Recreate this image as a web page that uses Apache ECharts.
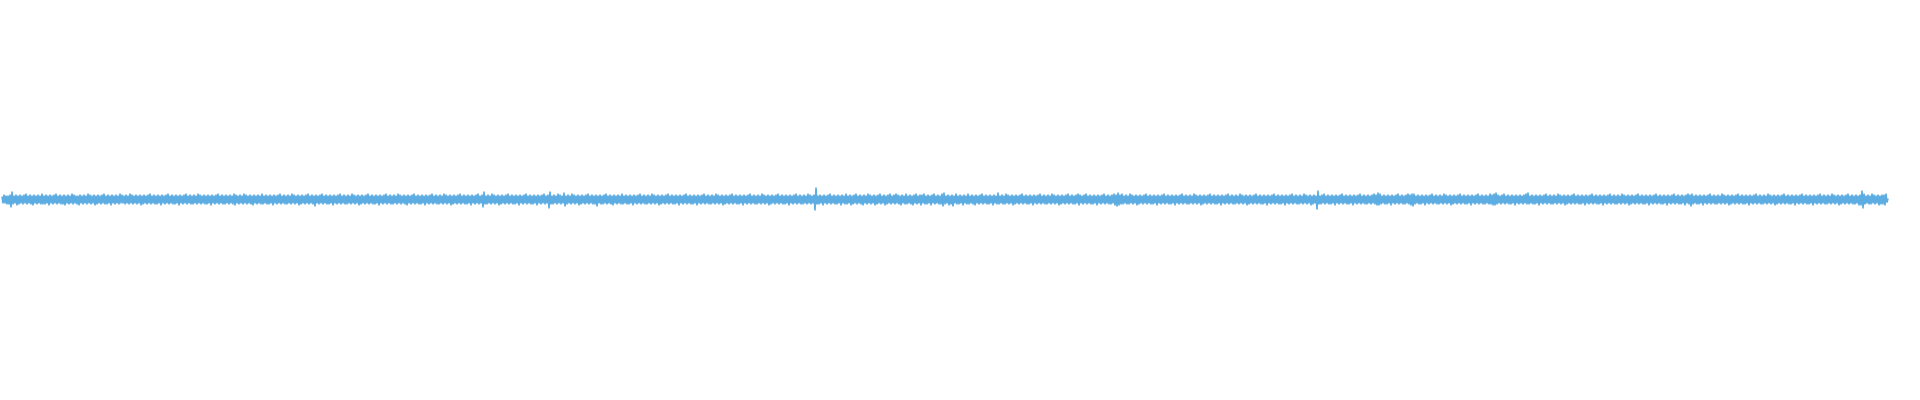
<!DOCTYPE html>
<html>
<head>
<meta charset="utf-8">
<style>
  html, body { margin: 0; padding: 0; background: #ffffff; }
  #chart { width: 1920px; height: 400px; }
</style>
<script src="https://cdn.jsdelivr.net/npm/echarts@6/dist/echarts.min.js"></script>
</head>
<body>
<div id="chart"></div>
<script>
// Waveform sample amplitudes
const samples = [
3,-4,5,-4,4,-5,4,-5,5,-8,8,-5,4,-4,5,-6,4,-5,5,-4,4,-5,5,-4,6,-5,4,-4,5,-5,4,-6,5,-4,4,-5,5,-4,4,-5,
6,-5,4,-5,5,-4,4,-6,5,-4,4,-5,5,-4,6,-5,4,-4,5,-5,4,-5,5,-6,4,-4,5,-5,4,-4,6,-5,5,-4,4,-5,4,-6,5,-4,
4,-5,5,-4,4,-5,6,-4,5,-5,4,-4,5,-6,4,-5,5,-4,4,-5,5,-4,6,-5,4,-5,5,-4,4,-6,5,-4,4,-5,5,-4,4,-5,6,-4,
5,-4,4,-5,5,-4,4,-5,6,-4,5,-5,4,-4,5,-5,4,-4,5,-6,4,-5,5,-4,4,-5,5,-4,6,-5,4,-4,5,-5,4,-5,5,-4,4,-6,
5,-4,4,-5,5,-4,6,-5,4,-4,5,-5,4,-5,5,-4,4,-6,5,-4,4,-5,5,-4,6,-5,4,-4,5,-5,4,-5,5,-4,4,-5,6,-4,5,-5,
4,-4,5,-5,4,-5,5,-4,4,-6,5,-4,4,-5,5,-4,6,-5,4,-4,5,-5,4,-5,5,-4,4,-5,5,-4,4,-5,6,-6,5,-4,4,-5,5,-4,
4,-5,6,-4,5,-5,4,-4,5,-5,4,-6,5,-4,4,-5,5,-4,4,-5,6,-5,4,-4,5,-5,4,-5,5,-4,4,-6,5,-4,4,-5,5,-4,6,-5,
4,-4,5,-5,4,-5,5,-4,4,-5,6,-4,5,-5,4,-4,5,-6,4,-5,5,-4,4,-5,5,-4,6,-5,4,-4,5,-5,4,-7,5,-4,4,-5,5,-4,
6,-5,4,-4,5,-5,4,-5,5,-4,4,-6,5,-4,4,-5,5,-4,6,-5,4,-4,5,-5,4,-5,5,-4,4,-5,6,-4,5,-5,4,-4,5,-6,4,-5,
5,-4,4,-5,5,-4,6,-5,4,-4,5,-5,4,-5,5,-4,4,-6,5,-4,4,-5,5,-4,6,-5,4,-4,5,-5,4,-5,5,-4,4,-5,6,-4,5,-5,
4,-4,5,-5,4,-6,5,-4,4,-5,5,-4,6,-5,4,-4,5,-5,4,-5,5,-4,4,-6,5,-4,4,-5,5,-4,6,-5,4,-4,5,-5,4,-5,5,-4,
4,-5,6,-4,5,-5,4,-4,5,-6,4,-5,5,-4,4,-5,5,-4,6,-5,4,-4,5,-5,4,-5,5,-4,4,-6,5,-4,4,-5,5,-4,6,-5,4,-4,
5,-8,8,-5,4,-5,5,-4,4,-5,6,-4,5,-5,4,-4,5,-6,4,-5,5,-4,4,-5,5,-4,6,-5,4,-4,5,-5,4,-5,5,-4,4,-6,5,-4,
4,-5,5,-4,6,-5,4,-4,5,-5,4,-5,5,-4,4,-6,5,-4,4,-5,5,-4,6,-5,4,-4,5,-9,8,-5,4,-5,5,-4,4,-5,6,-4,5,-5,
4,-4,7,-7,4,-5,5,-4,4,-5,6,-4,5,-5,4,-4,5,-6,4,-5,5,-4,4,-5,5,-4,6,-5,4,-4,5,-5,4,-5,5,-7,4,-4,5,-5,
4,-5,5,-4,6,-5,4,-4,5,-5,4,-6,5,-4,4,-5,5,-4,4,-5,6,-5,4,-4,5,-5,4,-5,5,-4,4,-6,5,-4,4,-5,5,-4,6,-5,
4,-4,5,-5,4,-5,5,-4,4,-5,6,-4,5,-5,4,-4,5,-6,4,-5,5,-4,4,-5,5,-4,6,-5,4,-4,5,-5,4,-5,5,-4,4,-6,5,-4,
4,-5,5,-4,6,-5,4,-4,5,-5,4,-5,5,-4,4,-6,5,-4,4,-5,5,-4,6,-5,4,-4,5,-5,4,-5,5,-4,4,-5,6,-4,5,-5,4,-4,
5,-6,4,-5,5,-4,4,-5,5,-4,6,-5,4,-4,5,-5,4,-5,5,-4,4,-6,5,-4,4,-5,5,-4,6,-5,4,-4,5,-5,4,-5,5,-4,4,-5,
6,-4,5,-5,4,-4,5,-6,4,-5,5,-4,4,-5,5,-4,6,-5,4,-4,5,-5,4,-5,5,-4,4,-6,5,-4,4,-5,5,-4,6,-5,4,-4,5,-5,
4,-5,5,-4,4,-5,6,-4,5,-5,4,-4,5,-11,12,-5,4,-5,5,-4,4,-6,5,-4,4,-5,5,-4,6,-5,4,-4,5,-5,4,-5,5,-4,4,-6,
5,-4,4,-5,6,-5,4,-4,5,-6,4,-5,5,-4,6,-5,4,-4,5,-5,4,-6,5,-4,4,-5,6,-4,5,-5,4,-4,5,-6,4,-5,5,-4,6,-5,
4,-4,5,-6,4,-5,5,-4,6,-5,4,-4,5,-5,6,-4,5,-5,4,-6,5,-4,4,-5,6,-5,4,-4,5,-5,4,-6,5,-4,6,-5,4,-4,5,-6,
5,-4,6,-5,4,-5,5,-4,4,-6,5,-4,6,-5,4,-4,5,-5,4,-5,6,-7,7,-5,4,-4,5,-6,4,-5,5,-7,4,-4,6,-5,4,-5,5,-4,
4,-6,5,-4,4,-5,6,-5,4,-4,5,-5,4,-6,5,-4,4,-5,5,-4,6,-5,4,-4,5,-5,4,-5,5,-4,4,-6,5,-4,4,-5,7,-5,4,-4,
5,-5,4,-5,6,-4,5,-5,4,-4,5,-6,4,-5,5,-4,4,-5,5,-4,6,-5,4,-4,5,-5,4,-5,5,-4,4,-6,5,-4,4,-5,5,-4,6,-5,
4,-4,5,-5,4,-5,5,-4,4,-5,6,-4,5,-5,4,-4,5,-6,4,-5,5,-4,4,-5,5,-4,6,-5,4,-4,5,-5,4,-5,5,-4,6,-6,5,-4,
4,-5,5,-4,6,-5,4,-4,5,-5,4,-5,5,-4,4,-6,5,-4,4,-5,5,-4,6,-5,4,-4,5,-5,4,-5,5,-4,6,-6,5,-7,7,-6,5,-5,
6,-5,4,-4,5,-5,4,-5,6,-4,5,-5,4,-4,5,-6,4,-5,5,-4,4,-5,5,-4,6,-5,4,-4,5,-5,4,-5,5,-4,4,-6,5,-4,4,-5,
5,-4,6,-5,4,-4,5,-5,4,-5,5,-4,4,-6,5,-4,4,-5,5,-4,6,-5,4,-4,5,-5,4,-5,5,-4,4,-5,6,-4,5,-5,4,-4,5,-6,
4,-5,5,-4,4,-5,5,-4,6,-5,4,-4,5,-5,4,-5,5,-4,4,-6,5,-4,4,-5,5,-4,6,-5,4,-4,5,-5,4,-5,5,-4,4,-5,6,-4,
5,-5,4,-4,5,-6,4,-5,5,-4,4,-5,5,-4,6,-5,4,-4,5,-5,4,-5,5,-4,4,-6,5,-4,4,-5,5,-4,6,-5,4,-4,5,-5,4,-5,
5,-4,4,-6,5,-4,4,-5,5,-4,6,-5,4,-4,5,-5,4,-5,5,-4,4,-5,6,-4,5,-5,4,-4,5,-6,4,-5,5,-4,4,-10,9,-5,4,-5,
5,-4,6,-5,4,-4,5,-5,4,-5,5,-4,4,-6,5,-4,4,-5,5,-4,6,-5,4,-4,5,-5,4,-5,5,-4,4,-6,5,-4,4,-5,5,-4,6,-5,
4,-4,5,-5,4,-5,5,-4,4,-5,5,-4,6,-5,5,-6,7,-6,6,-5,4,-4,5,-5,4,-5,5,-4,4,-6,5,-4,4,-5,5,-4,6,-5,4,-4,
5,-5,4,-5,5,-4,6,-5,5,-6,6,-7,6,-5,4,-4,5,-5,4,-5,5,-4,4,-6,5,-4,4,-5,5,-4,6,-5,4,-4,5,-5,4,-5,5,-4,
4,-5,6,-4,5,-5,4,-4,5,-6,4,-5,5,-4,4,-5,5,-4,6,-5,4,-4,5,-5,4,-5,5,-4,4,-6,5,-4,4,-5,5,-4,6,-5,4,-4,
5,-5,4,-5,5,-4,4,-5,6,-5,5,-6,6,-6,7,-5,5,-4,4,-5,5,-4,6,-5,4,-4,5,-5,4,-5,5,-4,4,-6,5,-4,4,-5,5,-4,
4,-5,5,-4,6,-5,7,-5,4,-4,5,-5,4,-5,5,-4,4,-6,5,-4,4,-5,5,-4,6,-5,4,-4,5,-5,4,-5,5,-4,4,-5,6,-4,5,-5,
4,-4,5,-6,4,-5,5,-4,4,-5,5,-4,6,-5,4,-4,5,-5,4,-5,5,-4,4,-6,5,-4,4,-5,5,-4,6,-5,4,-4,5,-5,4,-5,5,-4,
4,-6,5,-4,4,-5,5,-4,6,-5,4,-4,5,-5,4,-5,5,-4,4,-5,6,-4,5,-5,4,-4,5,-6,4,-5,5,-4,4,-5,5,-4,6,-5,4,-4,
5,-5,4,-5,5,-4,4,-6,5,-4,4,-5,5,-4,6,-5,4,-4,5,-5,4,-5,5,-4,4,-6,5,-4,4,-5,5,-4,6,-5,4,-4,5,-5,4,-5,
5,-4,4,-6,5,-4,6,-5,5,-7,6,-5,4,-4,5,-5,4,-5,5,-4,4,-6,5,-4,4,-5,5,-4,6,-5,4,-4,5,-5,4,-5,5,-4,4,-5,
6,-4,5,-5,4,-4,5,-6,4,-5,5,-4,4,-5,5,-4,6,-5,4,-4,5,-5,4,-5,5,-4,4,-6,5,-4,4,-5,5,-4,6,-5,4,-4,5,-5,
4,-5,5,-4,4,-5,6,-4,5,-5,4,-4,5,-6,4,-5,5,-4,4,-5,5,-4,6,-5,4,-4,5,-5,4,-5,5,-4,4,-6,5,-4,4,-5,5,-4,
6,-5,4,-4,5,-5,4,-5,5,-4,4,-6,5,-4,4,-5,5,-4,6,-5,4,-4,5,-5,4,-5,5,-4,4,-5,6,-4,5,-5,4,-4,5,-6,4,-5,
5,-4,4,-5,5,-4,6,-5,4,-4,5,-5,4,-5,5,-4,4,-6,5,-6,9,-9,6,-5,4,-4,5,-5,4,-5,6,-4,5,-5,4,-4,5,-6,4,-5,
5,-5,5,-6,6,-3,1
];

// Axis ranges (hidden axes; signal centred on zero)
const yRange = [-199.5, 199.5];

const chart = echarts.init(document.getElementById('chart'), null, { renderer: 'canvas' });
const seriesData = samples.map((v, i) => [i, v]);

chart.setOption({
  animation: false,
  backgroundColor: '#ffffff',
  grid: { left: 2, right: 32, top: 0, bottom: 1, containLabel: false },
  xAxis: {
    type: 'value',
    min: 0,
    max: samples.length - 1,
    show: false
  },
  yAxis: {
    type: 'value',
    min: yRange[0],
    max: yRange[1],
    show: false
  },
  series: [{
    type: 'line',
    data: seriesData,
    showSymbol: false,
    symbol: 'none',
    lineStyle: { color: '#5dade2', width: 1.6 },
    itemStyle: { color: '#5dade2' }
  }]
});
</script>
</body>
</html>
